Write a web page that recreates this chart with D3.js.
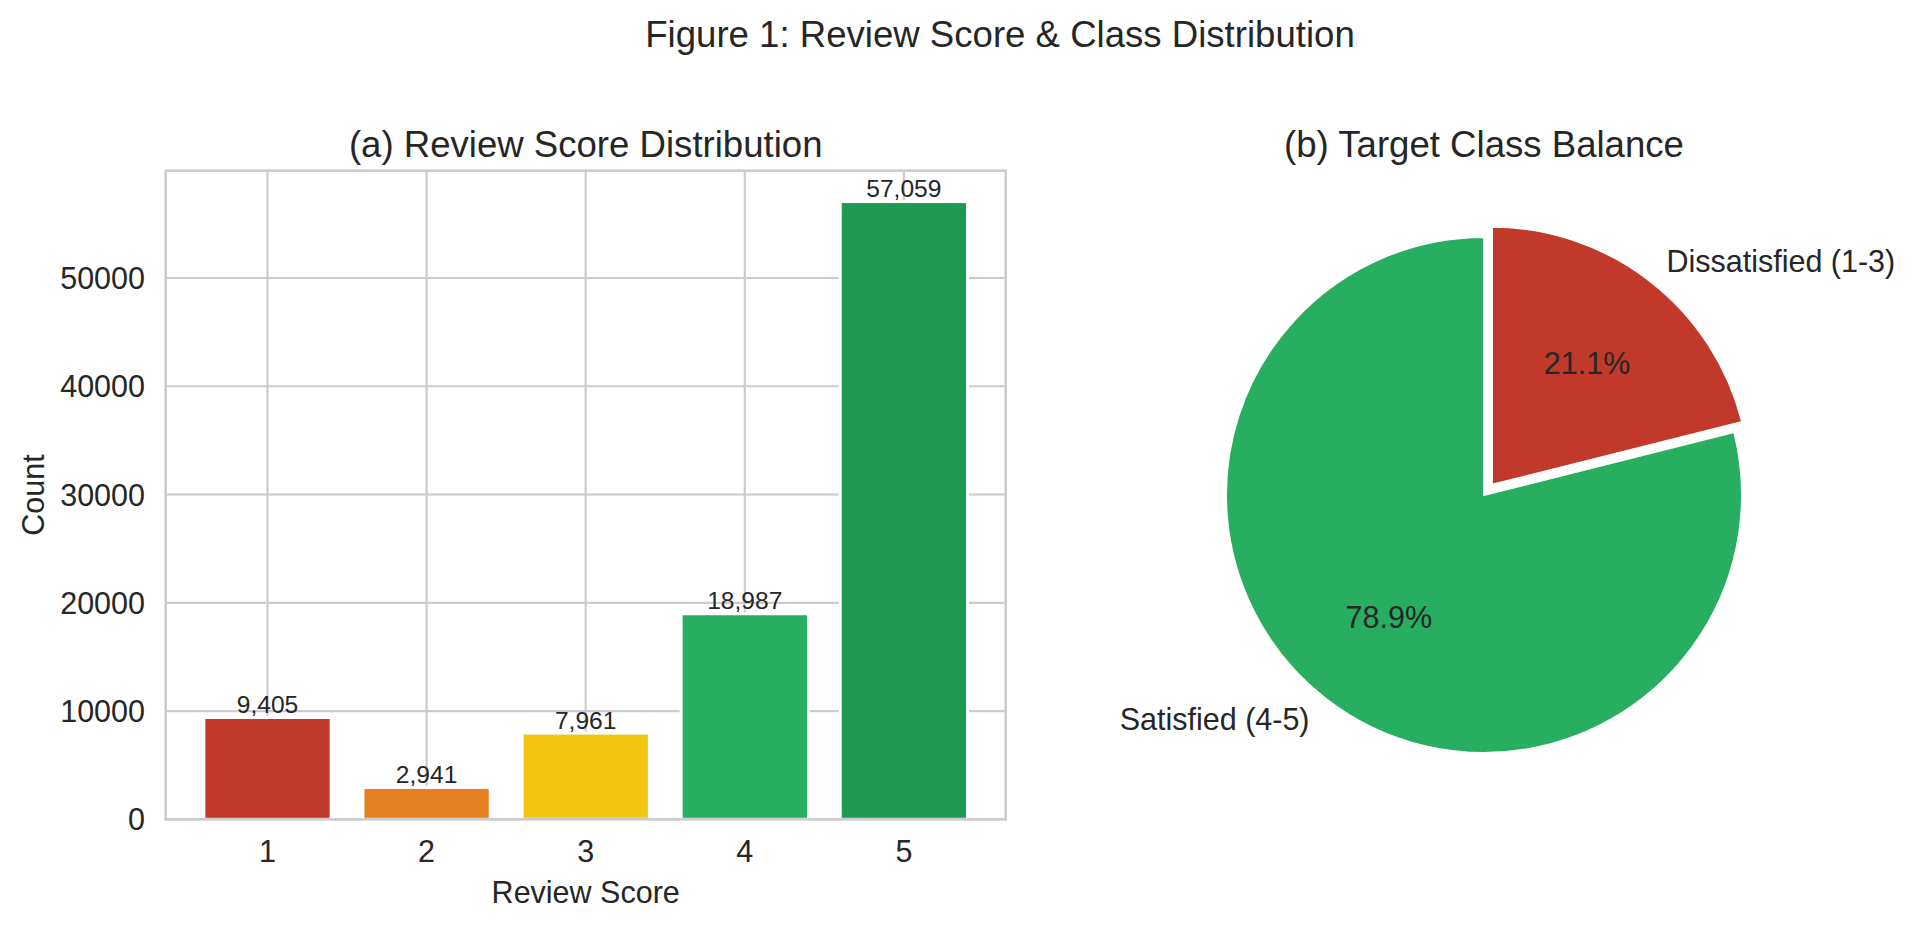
<!DOCTYPE html>
<html>
<head>
<meta charset="utf-8">
<script src="https://cdn.jsdelivr.net/npm/d3@7"></script>
<style>
  html, body { margin: 0; padding: 0; background: #ffffff; }
  svg { display: block; }
  text { font-family: "Liberation Sans", Arial, sans-serif; fill: #262626; }
</style>
</head>
<body>
<svg id="chart" width="1920" height="929"></svg>
<script>
// ---- data ----
const scores = [1, 2, 3, 4, 5];
const counts = [9405, 2941, 7961, 18987, 57059];
const barColors = ["#c0392b", "#e67e22", "#f1c40f", "#27ae60", "#1d9a51"];
const yTicks = [0, 10000, 20000, 30000, 40000, 50000];
const classLabels = ["Dissatisfied (1-3)", "Satisfied (4-5)"];
const classMembers = [[1, 2, 3], [4, 5]];
const classColors = ["#c0392b", "#27ae60"];
const classExplode = [0.05, 0];

const svg = d3.select("#chart");
const F = 30.5;

// figure title
svg.append("text").attr("x", 1000).attr("y", 46.7)
  .attr("text-anchor", "middle").attr("font-size", 36.6)
  .text("Figure 1: Review Score & Class Distribution");

// ---- (a) bar chart ----
const ax = { left: 165.7, right: 1005.7, top: 170.7, bottom: 819.3 };
const x = d3.scaleLinear().domain([0.36, 5.64]).range([ax.left, ax.right]);
const y = d3.scaleLinear().domain([0, d3.max(counts) * 1.05]).range([ax.bottom, ax.top]);

const gA = svg.append("g");
// grid
gA.selectAll("line.hg").data(yTicks).join("line")
  .attr("x1", ax.left).attr("x2", ax.right)
  .attr("y1", d => y(d)).attr("y2", d => y(d))
  .attr("stroke", "#cccccc").attr("stroke-width", 2.2);
gA.selectAll("line.vg").data(scores).join("line")
  .attr("y1", ax.top).attr("y2", ax.bottom)
  .attr("x1", d => x(d)).attr("x2", d => x(d))
  .attr("stroke", "#cccccc").attr("stroke-width", 2.2);

// bars
const bw = x(0.8) - x(0);
gA.selectAll("rect.bar").data(scores).join("rect")
  .attr("x", d => x(d) - bw / 2)
  .attr("width", bw)
  .attr("y", (d, i) => y(counts[i]))
  .attr("height", (d, i) => y(0) - y(counts[i]))
  .attr("fill", (d, i) => barColors[i])
  .attr("stroke", "#ffffff").attr("stroke-width", 3);

// spines
gA.append("rect")
  .attr("x", ax.left).attr("y", ax.top)
  .attr("width", ax.right - ax.left).attr("height", ax.bottom - ax.top)
  .attr("fill", "none").attr("stroke", "#cccccc").attr("stroke-width", 2.6);

// bar labels
gA.selectAll("text.bl").data(scores).join("text")
  .attr("x", d => x(d)).attr("y", (d, i) => y(counts[i]) - 4.5)
  .attr("text-anchor", "middle").attr("font-size", 24.6)
  .text((d, i) => d3.format(",")(counts[i]));

// y tick labels
gA.selectAll("text.yt").data(yTicks).join("text")
  .attr("x", 145).attr("y", d => y(d))
  .attr("text-anchor", "end").attr("dominant-baseline", "central")
  .attr("font-size", F)
  .text(d => d3.format("d")(d));

// x tick labels
gA.selectAll("text.xt").data(scores).join("text")
  .attr("x", d => x(d)).attr("y", 861.7)
  .attr("text-anchor", "middle").attr("font-size", F)
  .text(d => d);

// axis labels
gA.append("text").attr("x", (ax.left + ax.right) / 2).attr("y", 902.7)
  .attr("text-anchor", "middle").attr("font-size", F).text("Review Score");
gA.append("text")
  .attr("transform", `translate(44.3,${(ax.top + ax.bottom) / 2}) rotate(-90)`)
  .attr("text-anchor", "middle").attr("font-size", F).text("Count");

// title
gA.append("text").attr("x", (ax.left + ax.right) / 2).attr("y", 157.3)
  .attr("text-anchor", "middle").attr("font-size", 36.6)
  .text("(a) Review Score Distribution");

// ---- (b) pie ----
const cx = 1484, cy = 495, R = 258;
const classValues = classMembers.map(m => d3.sum(m, s => counts[scores.indexOf(s)]));
const total = d3.sum(classValues);
const pie = d3.pie().sort(null).value(d => d)(classValues);
const arc = d3.arc().innerRadius(0).outerRadius(R);

const gB = svg.append("g").attr("transform", `translate(${cx},${cy})`);
pie.forEach((p, i) => {
  const mid = (p.startAngle + p.endAngle) / 2;
  const off = classExplode[i] * R;
  const ox = Math.sin(mid) * off, oy = -Math.cos(mid) * off;
  const g = gB.append("g").attr("transform", `translate(${ox},${oy})`);
  g.append("path").attr("d", arc(p))
    .attr("fill", classColors[i]).attr("stroke", "#ffffff").attr("stroke-width", 2);
  // percentage
  const pd = 0.6 * R;
  g.append("text")
    .attr("x", Math.sin(mid) * pd).attr("y", -Math.cos(mid) * pd)
    .attr("text-anchor", "middle").attr("dominant-baseline", "central")
    .attr("font-size", F)
    .text(d3.format(".1f")(classValues[i] / total * 100) + "%");
  // label
  const ld = 1.1 * R;
  const lx = Math.sin(mid) * ld;
  g.append("text")
    .attr("x", lx).attr("y", -Math.cos(mid) * ld)
    .attr("text-anchor", lx > 0 ? "start" : "end").attr("dominant-baseline", "central")
    .attr("font-size", F)
    .text(classLabels[i]);
});

svg.append("text").attr("x", cx).attr("y", 157.3)
  .attr("text-anchor", "middle").attr("font-size", 36.6)
  .text("(b) Target Class Balance");
</script>
</body>
</html>
